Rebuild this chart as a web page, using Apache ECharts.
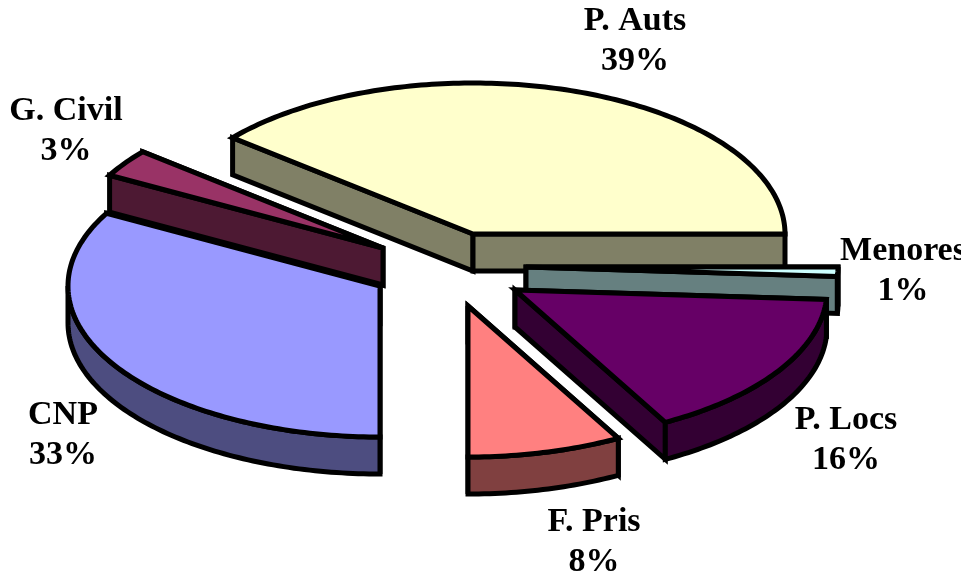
<!DOCTYPE html>
<html>
<head>
<meta charset="utf-8">
<style>html,body{margin:0;padding:0;background:#fff;overflow:hidden}#c{width:961px;height:575px}</style>
<script src="https://cdn.jsdelivr.net/npm/echarts@6/dist/echarts.min.js"></script>
</head>
<body>
<div id="c"></div>
<script>
// Data, clockwise from the top-left edge of the largest slice
var categories = ['P. Auts', 'Menores', 'P. Locs', 'F. Pris', 'CNP', 'G. Civil'];
var shares = [39, 1, 16, 8, 33, 3];

// Styling and layout, separate from the data
var topColors  = ['#FFFFCC', '#CCFFFF', '#660066', '#FF8080', '#9999FF', '#993366'];
var sideColors = ['#808066', '#668080', '#330033', '#804040', '#4D4D80', '#4D1933'];
var apexes = [[473,234],[526,267],[515,290],[468,306],[380,286],[383,248]];
var labelAt = [[635,41],[903,271],[846,440],[594,542],[63,435],[66,131]];
var paintOrder = [0, 1, 2, 5, 4, 3];
var START_DEG = -50.4, RX = 312, RY = 151, DEPTH = 37, EDGE = 5;

var total = shares.reduce(function (a, b) { return a + b; }, 0);
var spans = [], acc = START_DEG;
shares.forEach(function (v) {
  var sweep = v / total * 360;
  spans.push([acc, acc + sweep]);
  acc += sweep;
});

function rim(apex, deg, drop) {
  var t = deg * Math.PI / 180;
  return [apex[0] + RX * Math.sin(t), apex[1] - RY * Math.cos(t) + drop];
}
function arc(apex, from, to, drop) {
  var pts = [], n = Math.max(2, Math.ceil(Math.abs(to - from)));
  for (var i = 0; i <= n; i++) pts.push(rim(apex, from + (to - from) * i / n, drop));
  return pts;
}
function poly(points, fill) {
  return { type: 'polygon', shape: { points: points },
    style: { fill: fill, stroke: '#000', lineWidth: EDGE, lineJoin: 'miter', miterLimit: 4 } };
}
function renderSlice(params, api) {
  var i = api.value(0), apex = apexes[i], a = spans[i][0], b = spans[i][1];
  var kids = [];
  // Cut faces painted back to front, so the nearer one hides the farther one
  [a, b].sort(function (p, q) { return rim(apex, p, 0)[1] - rim(apex, q, 0)[1]; }).forEach(function (deg) {
    var p = rim(apex, deg, 0);
    kids.push(poly([apex, p, [p[0], p[1] + DEPTH], [apex[0], apex[1] + DEPTH]], sideColors[i]));
  });
  var from = Math.max(a, 90), to = Math.min(b, 270);
  if (to > from) {
    kids.push(poly(arc(apex, from, to, 0).concat(arc(apex, to, from, DEPTH)), sideColors[i]));
  }
  kids.push(poly([apex].concat(arc(apex, a, b, 0)), topColors[i]));
  return { type: 'group', children: kids };
}
function renderLabel(params, api) {
  var i = api.value(0);
  return { type: 'text', x: labelAt[i][0], y: labelAt[i][1], z2: 10,
    style: { text: categories[i] + '\n' + api.value(1) + '%', align: 'center', verticalAlign: 'middle',
      fontFamily: '"Liberation Serif"', fontWeight: 'bold', fontSize: 34, lineHeight: 40, fill: '#000' } };
}
var chart = echarts.init(document.getElementById('c'), null, { renderer: 'canvas' });
chart.setOption({
  backgroundColor: '#fff',
  animation: false,
  series: [
    { type: 'custom', coordinateSystem: 'none', renderItem: renderSlice, silent: true,
      data: paintOrder.map(function (i) { return [i, shares[i]]; }) },
    { type: 'custom', coordinateSystem: 'none', renderItem: renderLabel, silent: true, z: 5,
      data: categories.map(function (c, i) { return [i, shares[i]]; }) }
  ]
});
</script>
</body>
</html>
